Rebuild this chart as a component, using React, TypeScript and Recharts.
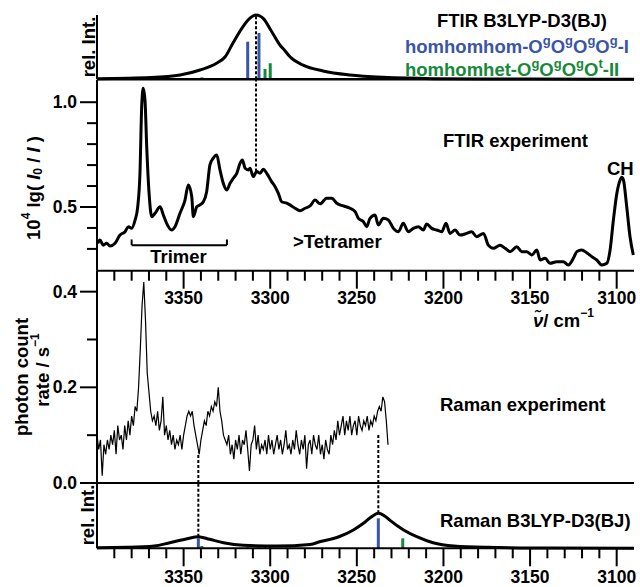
import React from "react";
import { ComposedChart, Line, XAxis, YAxis, ReferenceLine } from "recharts";

const FONT = "'Liberation Sans', Arial, Helvetica, sans-serif";
const BLUE = "#3b55a6";
const GREEN = "#17893b";

// wavenumber axis (cm-1), reversed
const xDomain = [3090, 3400];
const xTicks = [
  3390, 3380, 3370, 3360, 3350, 3340, 3330, 3320, 3310, 3300, 3290, 3280, 3270, 3260, 3250,
  3240, 3230, 3220, 3210, 3200, 3190, 3180, 3170, 3160, 3150, 3140, 3130, 3120, 3110, 3100,
];
const xTickLabels = [3350, 3300, 3250, 3200, 3150, 3100];

const ftirYTicks = [0.3, 0.4, 0.5, 0.6, 0.7, 0.8, 0.9, 1.0];
const ftirYLabels = [0.5, 1.0];
const ramanYTicks = [0, 0.1, 0.2, 0.3, 0.4];
const ramanYLabels = [0, 0.2, 0.4];

// computed FTIR envelope (rel. Int.)
const ftirCalcNu = [3400, 3369, 3352, 3340.5, 3331, 3326, 3321.5, 3315.7, 3311.7, 3310, 3308.2, 3306, 3304.2, 3299.1, 3294.3, 3291.5, 3288.6, 3281, 3269.5, 3254, 3235, 3206, 3150, 3090];
const ftirCalcInt = [1, 2.8, 6.7, 14.5, 25, 35, 56.5, 82, 95, 98.5, 100, 98.5, 95, 74, 53, 44.5, 35, 22, 13, 6.7, 3, 1, 0.4, 0];

// computed Raman envelope (rel. Int.)
const ramanCalcNu = [3400, 3383, 3367, 3358, 3348, 3341.5, 3335, 3327, 3315.5, 3296, 3277, 3271, 3263.5, 3260, 3252, 3246, 3241.7, 3237.6, 3233.5, 3231, 3223, 3215.4, 3206, 3194, 3175, 3140, 3090];
const ramanCalcInt = [0.9, 1.5, 3.5, 8.5, 14.6, 17.7, 13.7, 8.5, 4.6, 3.5, 5.8, 10.4, 15, 18, 28, 38.5, 47.7, 53.4, 48.5, 43, 28, 17.7, 8.5, 3.5, 1.5, 0.5, 0];

// stick spectra of the two conformers
const blueStickNu = [3341.5, 3313, 3306.5, 3237.6];
const blueFtirInt = [2, 58.5, 72, 1];
const blueRamanInt = [15.2, 1.5, 1.5, 45.7];
const greenStickNu = [3339.5, 3303, 3300, 3223.5];
const greenFtirInt = [3, 16, 25, 1.5];
const greenRamanInt = [3.5, 1.5, 1.5, 15.2];

// FTIR experiment, 10^4 lg(I0/I)
const ftirExpNu = [
  3399.6, 3398.3, 3396.4, 3394.4, 3392.5, 3389.6, 3386.7, 3383.8, 3381.9, 3380, 3378, 3376.5, 3375.2, 3374.2, 3373.3,
  3372.3, 3371.3, 3369.8, 3368.4, 3366.5, 3363.6, 3361.7, 3359.8, 3356.9, 3355, 3352.1, 3349.2, 3347.3, 3345.3, 3344.4,
  3342.4, 3340.5, 3338.6, 3336.7, 3334.8, 3332.9, 3330.9, 3329, 3327.1, 3325.1, 3323.2, 3321.3, 3319.3, 3317.4, 3316.1,
  3314.5, 3312.6, 3311.7, 3309.8, 3307.8, 3305.9, 3304, 3302, 3299.2, 3297.2, 3295.3, 3293.4, 3290.5, 3288.6, 3285.7,
  3282.8, 3279.9, 3277, 3274.1, 3271.2, 3267.4, 3264.5, 3261.6, 3257.8, 3253.9, 3251, 3249.1, 3246.2, 3244.3, 3242.4,
  3239.5, 3237.6, 3234.7, 3231.8, 3228.9, 3226, 3223.2, 3220.3, 3217.4, 3214.5, 3211.6, 3209.7, 3206.8, 3203.9, 3201,
  3198.5, 3196.2, 3193.3, 3190.4, 3186.6, 3183.7, 3180.8, 3176.9, 3174.1, 3171.2, 3167.3, 3164.4, 3161.5, 3157.7, 3154.8,
  3151.9, 3149, 3146.1, 3144.2, 3141.3, 3138.5, 3134.6, 3130.8, 3127.9, 3125, 3123, 3120.2, 3117.3, 3114.4, 3111.5,
  3108.6, 3105.7, 3103.8, 3101.9, 3099.9, 3098, 3097.1, 3096.1, 3094.2, 3092.3, 3090.4,
];
const ftirExpAbs = [
  0.327, 0.342, 0.318, 0.327, 0.314, 0.327, 0.366, 0.382, 0.406, 0.398, 0.438, 0.501, 0.661, 0.979, 1.067,
  1.011, 0.788, 0.549, 0.454, 0.47, 0.501, 0.462, 0.422, 0.39, 0.406, 0.47, 0.533, 0.605, 0.549, 0.454,
  0.501, 0.51, 0.525, 0.573, 0.701, 0.733, 0.748, 0.677, 0.613, 0.581, 0.613, 0.637, 0.661, 0.709, 0.724,
  0.685, 0.677, 0.685, 0.645, 0.669, 0.661, 0.68, 0.661, 0.621, 0.597, 0.565, 0.525, 0.518, 0.51, 0.494,
  0.482, 0.494, 0.505, 0.533, 0.515, 0.542, 0.542, 0.518, 0.505, 0.494, 0.478, 0.446, 0.43, 0.406, 0.446,
  0.462, 0.414, 0.446, 0.438, 0.398, 0.382, 0.422, 0.382, 0.398, 0.406, 0.39, 0.419, 0.398, 0.39, 0.382,
  0.422, 0.374, 0.39, 0.366, 0.374, 0.382, 0.358, 0.374, 0.318, 0.303, 0.318, 0.303, 0.287, 0.31, 0.287,
  0.287, 0.271, 0.295, 0.247, 0.255, 0.231, 0.239, 0.239, 0.223, 0.255, 0.287, 0.295, 0.282, 0.263, 0.247,
  0.223, 0.231, 0.295, 0.438, 0.565, 0.629, 0.642, 0.629, 0.501, 0.358, 0.271,
];

// Raman experiment, photon count rate / s-1, sampled every 1 cm-1 from 3400 down
const ramanExpStart = 3400;
const ramanExpRate = [
  0.1, 0.07, 0.09, 0.015, 0.08, 0.06, 0.09, 0.07, 0.1, 0.08, 0.11, 0.06, 0.12, 0.09, 0.1, 0.07, 0.12, 0.09, 0.13, 0.1,
  0.14, 0.12, 0.16, 0.15, 0.2, 0.28, 0.37, 0.42, 0.34, 0.23, 0.19, 0.15, 0.13, 0.14, 0.12, 0.15, 0.11, 0.13, 0.18, 0.1,
  0.12, 0.09, 0.11, 0.08, 0.1, 0.07, 0.09, 0.08, 0.1, 0.07, 0.1, 0.12, 0.14, 0.15, 0.14, 0.15, 0.12, 0.1, 0.08, 0.06,
  0.09, 0.11, 0.13, 0.12, 0.15, 0.14, 0.16, 0.15, 0.17, 0.16, 0.2, 0.15, 0.13, 0.1, 0.09, 0.08, 0.1, 0.06, 0.08, 0.05,
  0.09, 0.07, 0.1, 0.06, 0.09, 0.08, 0.11, 0.07, 0.025, 0.08, 0.09, 0.12, 0.07, 0.1, 0.06, 0.08, 0.07, 0.09, 0.06, 0.1,
  0.07, 0.09, 0.06, 0.08, 0.1, 0.07, 0.09, 0.06, 0.08, 0.11, 0.07, 0.08, 0.06, 0.09, 0.07, 0.11, 0.08, 0.06, 0.09, 0.07,
  0.1, 0.03, 0.08, 0.09, 0.06, 0.1, 0.08, 0.07, 0.1, 0.06, 0.08, 0.05, 0.09, 0.07, 0.06, 0.1, 0.08, 0.11, 0.09, 0.13,
  0.1, 0.12, 0.14, 0.1, 0.13, 0.11, 0.14, 0.1, 0.12, 0.13, 0.1, 0.14, 0.12, 0.11, 0.13, 0.12, 0.14, 0.11, 0.13, 0.12,
  0.14, 0.13, 0.15, 0.16, 0.15, 0.18, 0.17, 0.13, 0.08,
];

// dotted guides: FTIR band, two Raman bands
const ftirGuideNu = 3308.2;
const ramanGuideNu = [3341.5, 3237.6];
const ramanGuideFrom = [0.063, 0.104];

// "Trimer" bracket
const trimerRange = [3380, 3325];
const trimerLevel = [0.318, 0.345];

const zip = (nu: number[], v: number[]) => nu.map((n, i) => ({ nu: n, v: v[i] }));
const nearest = (nu: number[], v: number[], x: number) => {
  let best = 0;
  nu.forEach((n, i) => {
    if (Math.abs(n - x) < Math.abs(nu[best] - x)) best = i;
  });
  return v[best];
};

const ftirCalc = zip(ftirCalcNu, ftirCalcInt);
const ramanCalc = zip(ramanCalcNu, ramanCalcInt);
const ftirExp = zip(ftirExpNu, ftirExpAbs);
const ramanExp = ramanExpRate.map((v, i) => ({ nu: ramanExpStart - i, v }));

const axisLine = { stroke: "#000", strokeWidth: 2 };
const dotted = { stroke: "#000", strokeWidth: 2, strokeDasharray: "3 2" };

function XTick(props: any) {
  const { x, y, payload, labelDy } = props;
  const major = xTickLabels.includes(payload.value);
  return (
    <g>
      <line x1={x} x2={x} y1={y} y2={y + (major ? 18 : 10)} stroke="#000" strokeWidth={2} />
      {major && (
        <text x={x} y={y + labelDy} textAnchor="middle" fontFamily={FONT} fontWeight="bold" fontSize={17.5} fill="#000">
          {payload.value}
        </text>
      )}
    </g>
  );
}

function YTick(props: any) {
  const { x, y, payload, labels } = props;
  const major = labels.some((l: number) => Math.abs(l - payload.value) < 1e-6);
  return (
    <g>
      <line x1={x - (major ? 17 : 10)} x2={x} y1={y} y2={y} stroke="#000" strokeWidth={2} />
      {major && (
        <text x={x - 20} y={y + 6} textAnchor="end" fontFamily={FONT} fontWeight="bold" fontSize={17.5} fill="#000">
          {payload.value.toFixed(1)}
        </text>
      )}
    </g>
  );
}

const W = 640;
const H = 587;
const LEFT = 97;
const RIGHT = 6;

// axes get a 1px footprint (zero-size axes are not drawn), so margins are shrunk by 1
function Panel({ top, bottom, children }: { top: number; bottom: number; children: React.ReactNode }) {
  return (
    <div style={{ position: "absolute", left: 0, top: 0 }}>
      <ComposedChart width={W} height={H} margin={{ top, right: RIGHT, bottom: H - bottom - 1, left: LEFT - 1 }}>
        {children}
      </ComposedChart>
    </div>
  );
}

function sticks(nu: number[], h: number[], color: string, id: string) {
  return nu.map((n, i) => (
    <ReferenceLine
      key={id + i}
      segment={[{ x: n, y: 0 }, { x: n, y: h[i] }]}
      stroke={color}
      strokeWidth={3}
      ifOverflow="visible"
    />
  ));
}

export default function App() {
  const ftirGuideTo = nearest(ftirExpNu, ftirExpAbs, ftirGuideNu);
  const txt = { fontFamily: FONT, fontWeight: "bold" as const, fontSize: 18.5 };

  return (
    <div style={{ position: "absolute", left: 0, top: 0, width: W, height: H, background: "#fff" }}>
      {/* computed FTIR */}
      <Panel top={15} bottom={79.3}>
        <XAxis type="number" dataKey="nu" domain={xDomain} reversed height={1} tick={false} tickLine={false} axisLine={{ stroke: "#000", strokeWidth: 2.5 }} />
        <YAxis type="number" domain={[0, 100]} width={1} tick={false} tickLine={false} axisLine={axisLine} />
        {sticks(blueStickNu, blueFtirInt, BLUE, "bf")}
        {sticks(greenStickNu, greenFtirInt, GREEN, "gf")}
        <Line data={ftirCalc} dataKey="v" type="monotone" stroke="#000" strokeWidth={3} dot={false} isAnimationActive={false} />
        <ReferenceLine segment={[{ x: ftirGuideNu, y: 0 }, { x: ftirGuideNu, y: 100 }]} {...dotted} ifOverflow="visible" />
      </Panel>

      {/* FTIR experiment */}
      <Panel top={80} bottom={270.7}>
        <XAxis
          type="number"
          dataKey="nu"
          domain={xDomain}
          reversed
          height={1}
          ticks={xTicks}
          interval={0}
          tickSize={0}
          tickMargin={0}
          tickLine={false}
          axisLine={axisLine}
          tick={(p: any) => <XTick {...p} labelDy={33.5} />}
        />
        <YAxis
          type="number"
          domain={[0.196, 1.106]}
          width={1}
          ticks={ftirYTicks}
          interval={0}
          tickSize={0}
          tickMargin={0}
          tickLine={false}
          axisLine={axisLine}
          tick={(p: any) => <YTick {...p} labels={ftirYLabels} />}
        />
        <Line data={ftirExp} dataKey="v" type="monotone" stroke="#000" strokeWidth={3} dot={false} isAnimationActive={false} />
        <ReferenceLine segment={[{ x: ftirGuideNu, y: ftirGuideTo }, { x: ftirGuideNu, y: 1.106 }]} {...dotted} ifOverflow="visible" />
        <ReferenceLine segment={[{ x: trimerRange[0], y: trimerLevel[0] }, { x: trimerRange[1], y: trimerLevel[0] }]} stroke="#000" strokeWidth={2} ifOverflow="visible" />
        <ReferenceLine segment={[{ x: trimerRange[0], y: trimerLevel[0] }, { x: trimerRange[0], y: trimerLevel[1] }]} stroke="#000" strokeWidth={2} ifOverflow="visible" />
        <ReferenceLine segment={[{ x: trimerRange[1], y: trimerLevel[0] }, { x: trimerRange[1], y: trimerLevel[1] }]} stroke="#000" strokeWidth={2} ifOverflow="visible" />
      </Panel>

      {/* Raman experiment */}
      <Panel top={270.7} bottom={483}>
        <XAxis type="number" dataKey="nu" domain={xDomain} reversed height={1} tick={false} tickLine={false} axisLine={axisLine} />
        <YAxis
          type="number"
          domain={[0, 0.4438]}
          width={1}
          ticks={ramanYTicks}
          interval={0}
          tickSize={0}
          tickMargin={0}
          tickLine={false}
          axisLine={axisLine}
          tick={(p: any) => <YTick {...p} labels={ramanYLabels} />}
        />
        <Line data={ramanExp} dataKey="v" type="linear" stroke="#000" strokeWidth={1.2} dot={false} isAnimationActive={false} />
        {ramanGuideNu.map((n, i) => (
          <ReferenceLine key={"rg" + i} segment={[{ x: n, y: 0 }, { x: n, y: ramanGuideFrom[i] }]} {...dotted} ifOverflow="visible" />
        ))}
      </Panel>

      {/* computed Raman */}
      <Panel top={482.7} bottom={548.3}>
        <XAxis
          type="number"
          dataKey="nu"
          domain={xDomain}
          reversed
          height={1}
          ticks={xTicks}
          interval={0}
          tickSize={0}
          tickMargin={0}
          tickLine={false}
          axisLine={axisLine}
          tick={(p: any) => <XTick {...p} labelDy={34.5} />}
        />
        <YAxis type="number" domain={[0, 100]} width={1} tick={false} tickLine={false} axisLine={axisLine} />
        {sticks(blueStickNu, blueRamanInt, BLUE, "br")}
        {sticks(greenStickNu, greenRamanInt, GREEN, "gr")}
        <Line data={ramanCalc} dataKey="v" type="monotone" stroke="#000" strokeWidth={3} dot={false} isAnimationActive={false} />
        {ramanGuideNu.map((n, i) => (
          <ReferenceLine
            key={"rc" + i}
            segment={[{ x: n, y: nearest(ramanCalcNu, ramanCalcInt, n) }, { x: n, y: 100 }]}
            {...dotted}
            ifOverflow="visible"
          />
        ))}
      </Panel>

      {/* labels */}
      <svg width={W} height={H} style={{ position: "absolute", left: 0, top: 0 }}>
        <text x={437} y={27} {...txt} fill="#000">FTIR B3LYP-D3(BJ)</text>
        <text x={405} y={53} {...txt} fill={BLUE}>
          homhomhom-O<tspan dy={-8} fontSize={13}>g</tspan>
          <tspan dy={8}>O</tspan><tspan dy={-8} fontSize={13}>g</tspan>
          <tspan dy={8}>O</tspan><tspan dy={-8} fontSize={13}>g</tspan>
          <tspan dy={8}>O</tspan><tspan dy={-8} fontSize={13}>g</tspan>
          <tspan dy={8}>-I</tspan>
        </text>
        <text x={405} y={76} {...txt} fill={GREEN}>
          homhomhet-O<tspan dy={-8} fontSize={13}>g</tspan>
          <tspan dy={8}>O</tspan><tspan dy={-8} fontSize={13}>g</tspan>
          <tspan dy={8}>O</tspan><tspan dy={-8} fontSize={13}>g</tspan>
          <tspan dy={8}>O</tspan><tspan dy={-8} fontSize={13}>t</tspan>
          <tspan dy={8}>-II</tspan>
        </text>
        <text x={88} y={47} {...txt} textAnchor="middle" dominantBaseline="central" transform="rotate(-90 88 47)">rel. Int.</text>

        <text x={443} y={147} {...txt}>FTIR experiment</text>
        <text x={607} y={175} {...txt}>CH</text>
        <text x={293} y={247.5} {...txt}>&gt;Tetramer</text>
        <text x={178.5} y={263} {...txt} textAnchor="middle">Trimer</text>
        <text x={33} y={188} {...txt} textAnchor="middle" dominantBaseline="central" transform="rotate(-90 33 188)">
          10<tspan dy={-7} fontSize={12}>4</tspan>
          <tspan dy={7}> lg( </tspan>
          <tspan fontStyle="italic">I</tspan>
          <tspan dy={5} fontSize={12}>0</tspan>
          <tspan dy={-5}> / </tspan>
          <tspan fontStyle="italic">I</tspan>
          <tspan> )</tspan>
        </text>
        <text x={533} y={327} {...txt}>
          <tspan fontStyle="italic">ν̃</tspan>/ cm<tspan dy={-10} fontSize={12}>−1</tspan>
        </text>

        <text x={440} y={410.5} {...txt}>Raman experiment</text>
        <text x={21} y={377} {...txt} textAnchor="middle" dominantBaseline="central" transform="rotate(-90 21 377)">photon count</text>
        <text x={42} y={370} {...txt} textAnchor="middle" dominantBaseline="central" transform="rotate(-90 42 370)">
          rate / s<tspan dy={-7} fontSize={12}>−1</tspan>
        </text>

        <text x={440} y={526.5} {...txt}>Raman B3LYP-D3(BJ)</text>
        <text x={87.5} y={515} {...txt} textAnchor="middle" dominantBaseline="central" transform="rotate(-90 87.5 515)">rel. Int.</text>
      </svg>
    </div>
  );
}
